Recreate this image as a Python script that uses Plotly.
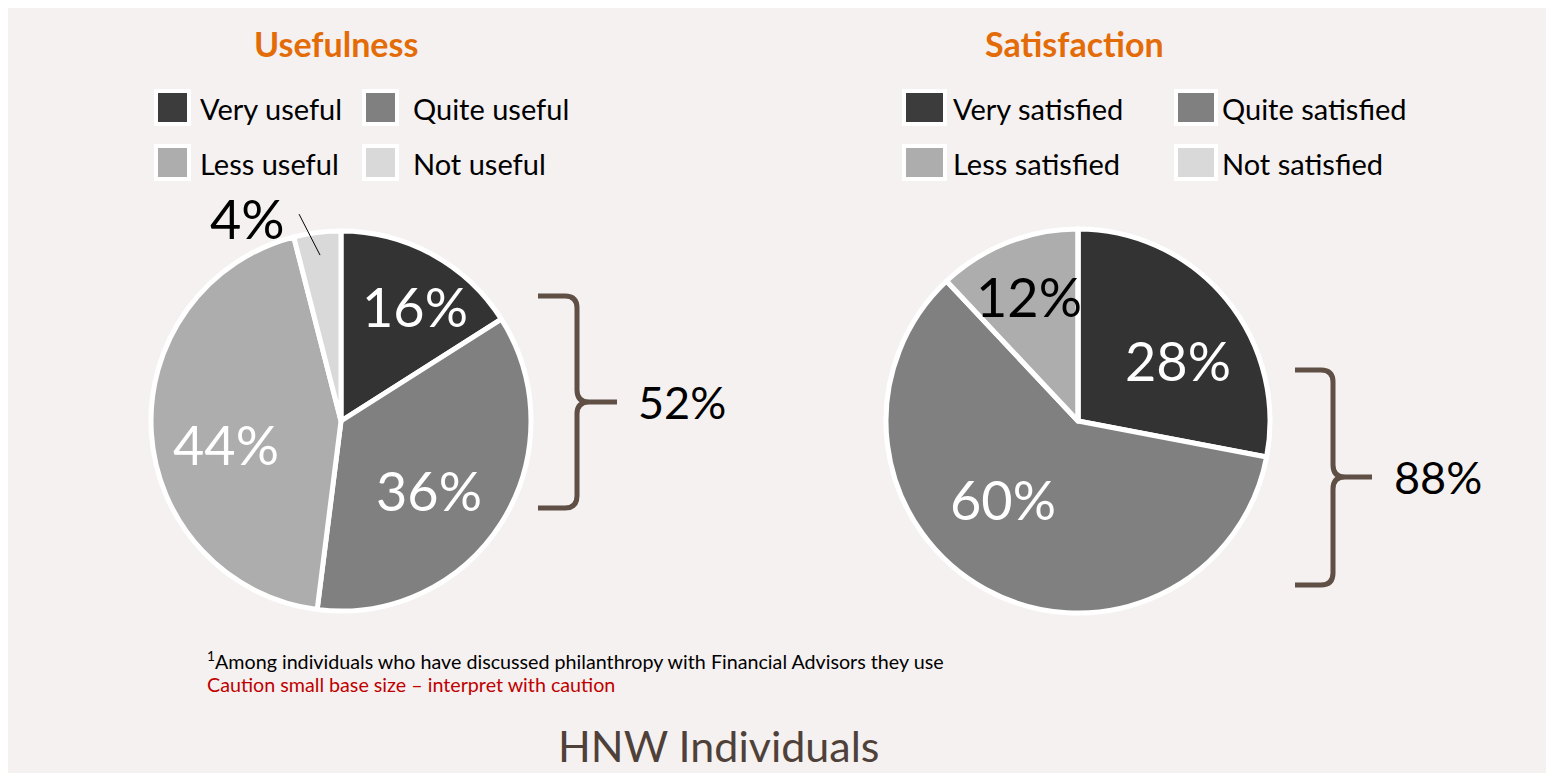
import math
import plotly.graph_objects as go

W, H = 1546, 773

# ---------------- data ----------------
use_title = "Usefulness"
use_labels = ["Very useful", "Quite useful", "Less useful", "Not useful"]
use_values = [16, 36, 44, 4]

sat_title = "Satisfaction"
sat_labels = ["Very satisfied", "Quite satisfied", "Less satisfied", "Not satisfied"]
sat_values = [28, 60, 12, 0]

slice_colors = ["#333333", "#808080", "#ADADAD", "#D9D9D9"]
legend_colors = ["#3C3C3C", "#808080", "#ADADAD", "#D9D9D9"]

footnote_main = "<sup>1</sup>Among individuals who have discussed philanthropy with Financial Advisors they use"
footnote_caution = "Caution small base size \u2013 interpret with caution"
bottom_title = "HNW Individuals"

FONT = "Lato"
BG = "#F5F1F0"
BRACE = "#5F4F44"


def px(x):
    return x / W


def py(y):
    return 1 - y / H


fig = go.Figure()
shapes = []
annotations = []

# light panel (white strip left/top)
shapes.append(dict(type="rect", xref="paper", yref="paper", x0=px(8), x1=1.01, y0=-0.01, y1=py(8),
                   fillcolor=BG, line=dict(width=0), layer="below"))

pies = [
    dict(values=use_values, labels=use_labels, cx=341, cy=421, r=190,
         text_colors=["white", "white", "white", "black"], outside=[False, False, False, True],
         nudge=[(17, -11), (-11, 6), (3, 16), (0, 0)],
         title=use_title, title_x=336,
         legend_box_x=[(156, 189), (364, 397)], legend_text_x=[198, 411],
         brace=dict(x0=538, xv=577, xt=617, y0=296, ym=402, y1=508), brace_text_x=682),
    dict(values=sat_values, labels=sat_labels, cx=1078, cy=421, r=192,
         text_colors=["white", "white", "black", "black"], outside=[False, False, False, False],
         nudge=[(8, 15), (-18, -26), (-5, -14), (0, 0)],
         title=sat_title, title_x=1074,
         legend_box_x=[(904, 945), (1176, 1216)], legend_text_x=[951, 1220],
         brace=dict(x0=1295, xv=1333, xt=1372, y0=370, ym=477, y1=585), brace_text_x=1438),
]

legend_rows_y = [(91, 124), (146, 179)]

for p in pies:
    cx, cy, r = p["cx"], p["cy"], p["r"]
    fig.add_trace(go.Pie(
        values=p["values"], labels=p["labels"], sort=False, direction="clockwise", rotation=0,
        marker=dict(colors=slice_colors, line=dict(color="white", width=5)),
        textinfo="none", hoverinfo="label+percent", showlegend=False,
        domain=dict(x=[px(cx - r), px(cx + r)], y=[py(cy + r), py(cy - r)]),
    ))
    total = sum(p["values"])
    cum = 0
    for v, col, out, (nx, ny) in zip(p["values"], p["text_colors"], p["outside"], p["nudge"]):
        if v <= 0:
            cum += v
            continue
        mid = (cum + v / 2) / total * 2 * math.pi
        cum += v
        pct = f"{round(v / total * 100)}%"
        if not out:
            f = 0.62
            x = cx + f * r * math.sin(mid) + nx
            y = cy - f * r * math.cos(mid) + ny
            annotations.append(dict(x=px(x), y=py(y), xref="paper", yref="paper", text=pct,
                                    showarrow=False, font=dict(family=FONT, size=54, color=col),
                                    xanchor="center", yanchor="middle"))
        else:
            ex = cx + 0.88 * r * math.sin(mid)
            ey = cy - 0.88 * r * math.cos(mid)
            sx, sy = ex - 21, ey - 41
            shapes.append(dict(type="line", xref="paper", yref="paper", x0=px(sx), y0=py(sy),
                               x1=px(ex), y1=py(ey), line=dict(color="black", width=1)))
            annotations.append(dict(x=px(sx - 12), y=py(sy + 4), xref="paper", yref="paper", text=pct,
                                    showarrow=False, font=dict(family=FONT, size=54, color=col),
                                    xanchor="right", yanchor="middle"))

    # title
    annotations.append(dict(x=px(p["title_x"]), y=py(44), xref="paper", yref="paper",
                            text=f"<b>{p['title']}</b>", showarrow=False,
                            font=dict(family=FONT, size=34, color="#E36C09"),
                            xanchor="center", yanchor="middle"))

    # legend (2 x 2)
    for i, (lab, lc) in enumerate(zip(p["labels"], legend_colors)):
        row, colm = divmod(i, 2)
        bx0, bx1 = p["legend_box_x"][colm]
        by0, by1 = legend_rows_y[row]
        shapes.append(dict(type="rect", xref="paper", yref="paper", x0=px(bx0), x1=px(bx1),
                           y0=py(by1), y1=py(by0), fillcolor=lc, line=dict(color="white", width=4)))
        annotations.append(dict(x=px(p["legend_text_x"][colm]), y=py((by0 + by1) / 2 + 1),
                                xref="paper", yref="paper", text=lab, showarrow=False,
                                font=dict(family=FONT, size=29, color="black"),
                                xanchor="left", yanchor="middle"))

    # brace for top-two share
    b = p["brace"]
    x0, xv, xt, y0, ym, y1 = b["x0"], b["xv"], b["xt"], b["y0"], b["ym"], b["y1"]
    c = 12
    pts = [
        ("M", [(x0, y0)]), ("L", [(xv - c, y0)]), ("Q", [(xv, y0), (xv, y0 + c)]),
        ("L", [(xv, ym - c)]), ("Q", [(xv, ym), (xv + c, ym)]), ("L", [(xt, ym)]),
        ("M", [(xv + c, ym)]), ("Q", [(xv, ym), (xv, ym + c)]), ("L", [(xv, y1 - c)]),
        ("Q", [(xv, y1), (xv - c, y1)]), ("L", [(x0, y1)]),
    ]
    path = " ".join(cmd + " " + " ".join(f"{px(a):.5f},{py(bb):.5f}" for a, bb in coords)
                    for cmd, coords in pts)
    shapes.append(dict(type="path", xref="paper", yref="paper", path=path,
                       line=dict(color=BRACE, width=5)))
    top_two = sum(p["values"][:2])
    annotations.append(dict(x=px(p["brace_text_x"]), y=py(ym), xref="paper", yref="paper",
                            text=f"{round(top_two / total * 100)}%", showarrow=False,
                            font=dict(family=FONT, size=45, color="black"),
                            xanchor="center", yanchor="middle"))

# footnotes
annotations.append(dict(x=px(205), y=py(660), xref="paper", yref="paper", text=footnote_main,
                        showarrow=False, font=dict(family=FONT, size=19.7, color="black"),
                        xanchor="left", yanchor="middle"))
annotations.append(dict(x=px(205), y=py(684), xref="paper", yref="paper", text=footnote_caution,
                        showarrow=False, font=dict(family=FONT, size=19.7, color="#C00000"),
                        xanchor="left", yanchor="middle"))
annotations.append(dict(x=px(718), y=py(745), xref="paper", yref="paper", text=bottom_title,
                        showarrow=False, font=dict(family=FONT, size=43, color="#4F4139"),
                        xanchor="center", yanchor="middle"))

fig.update_layout(
    width=W, height=H, margin=dict(l=0, r=0, t=0, b=0),
    paper_bgcolor="white", plot_bgcolor="white",
    shapes=shapes, annotations=annotations, showlegend=False,
    font=dict(family=FONT),
)

fig.write_html("out.html", default_width=f"{W}px", default_height=f"{H}px",
               config={"displayModeBar": False})

# place the figure at the page corner (no default body margin)
with open("out.html", "r", encoding="utf-8") as fh:
    html = fh.read()
html = html.replace("<body>", '<body style="margin:0;padding:0;overflow:hidden;background:#F5F1F0">', 1)
with open("out.html", "w", encoding="utf-8") as fh:
    fh.write(html)
